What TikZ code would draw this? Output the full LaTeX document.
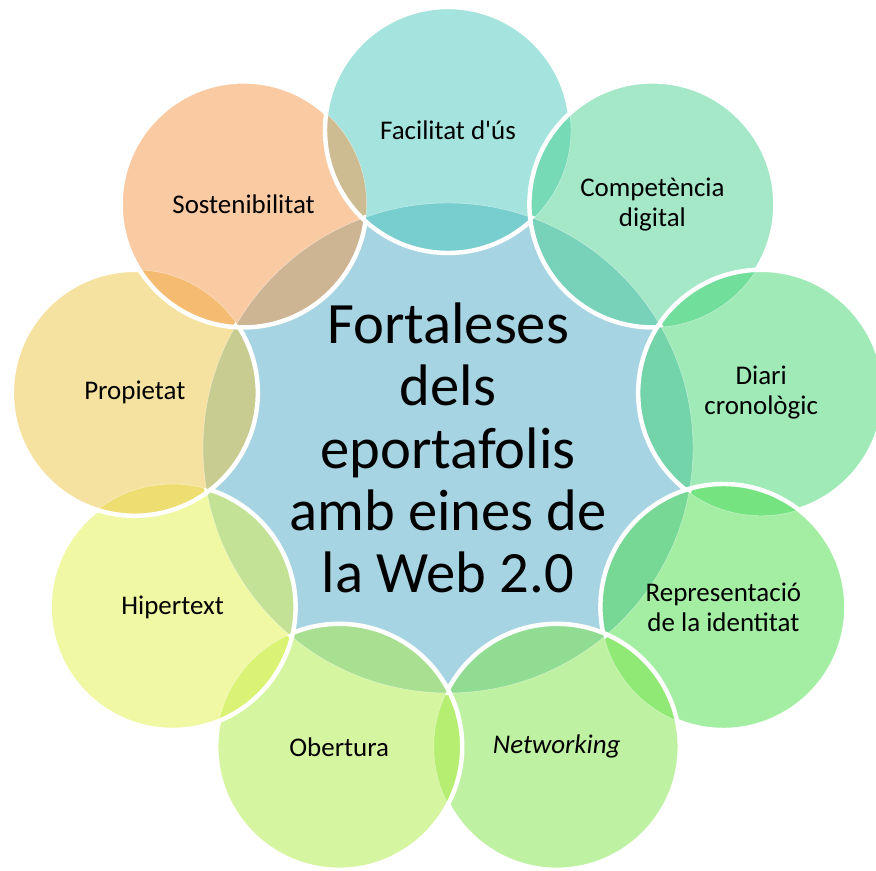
\documentclass[tikz,border=0pt]{standalone}
\usepackage{fontspec}
\setmainfont{Carlito}
\usetikzlibrary{calc}
\definecolor{hubblue}{RGB}{166,212,226}
\definecolor{pFac}{RGB}{75,201,189}
\definecolor{pCom}{RGB}{73,209,145}
\definecolor{pDia}{RGB}{65,213,113}
\definecolor{pRep}{RGB}{73,221,73}
\definecolor{pNet}{RGB}{125,229,69}
\definecolor{pObe}{RGB}{173,235,65}
\definecolor{pHip}{RGB}{225,241,73}
\definecolor{pPro}{RGB}{237,197,65}
\definecolor{pSos}{RGB}{245,149,69}

\begin{document}
\begin{tikzpicture}[x=0.03cm,y=0.03cm,
  lbl/.style={font=\fontsize{23}{25.5}\selectfont, align=center},
  hubtxt/.style={font=\fontsize{50}{53.3}\selectfont, align=center},
  rim/.style={draw=white, line width=3.8pt},
  seam/.style={draw=white, line width=0.4pt, draw opacity=0.5}]
\useasboundingbox (0,0) rectangle (876,870);
\coordinate (hub) at (448,422);
\fill[hubblue] (hub) circle[radius=245];
\foreach \i/\ang/\col in {1/90/pFac,2/50/pCom,3/10/pDia,4/-30/pRep,5/-70/pNet,
    6/-110/pObe,7/-150/pHip,8/170/pPro,9/130/pSos}{
  \coordinate (c\i) at ($(hub)+(\ang:318)$);
  \fill[\col, fill opacity=0.5] (c\i) circle[radius=123];
}
% white rims, hidden where the next disc lies over them
\begin{scope}[even odd rule]
  \clip (-20,-20) rectangle (900,890)
    foreach \k in {1,...,9}{(c\k) circle[radius=123]};
  \draw[rim] (hub) circle[radius=245];
\end{scope}
\foreach \i in {1,...,9}{
  \pgfmathtruncatemacro\j{mod(\i,9)+1}
  \begin{scope}[even odd rule]
    \clip (-20,-20) rectangle (900,890) (c\j) circle[radius=123];
    \draw[rim] (c\i) circle[radius=123];
  \end{scope}
  \draw[seam] (c\i) circle[radius=123];
}
\draw[seam] (hub) circle[radius=245];
\node[hubtxt] (title) at (hub) {Fortaleses\\dels\\eportafolis\\amb eines de\\la Web 2.0};
\foreach \i/\txt in {1/{Facilitat d\textquotesingle ús},2/{Competència\\digital},3/{Diari\\cronològic},
    4/{Representació\\de la identitat},5/{\itshape Networking},6/{Obertura},
    7/{Hipertext},8/{Propietat},9/{Sostenibilitat}}{
  \node[lbl] (t\i) at (c\i) {\txt};
}
\end{tikzpicture}
\end{document}
